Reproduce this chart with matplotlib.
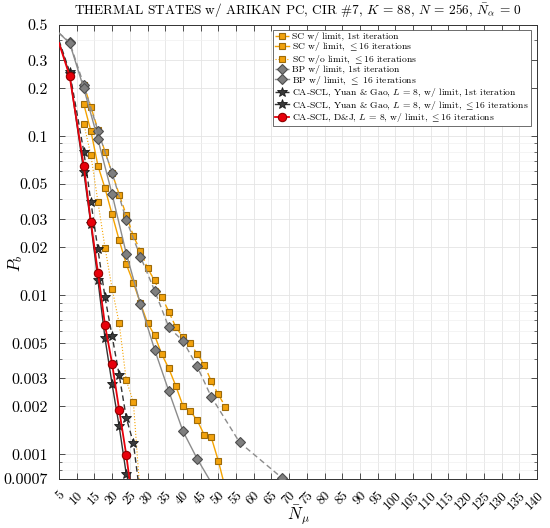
import matplotlib
matplotlib.use('Agg')
import matplotlib.pyplot as plt
import numpy as np
from matplotlib.ticker import FixedLocator, LogLocator, NullFormatter
from matplotlib.transforms import ScaledTranslation

plt.rcParams.update({
    'font.family': 'serif',
    'font.serif': ['cmr10'],
    'mathtext.fontset': 'cm',
    'axes.unicode_minus': False,
    'axes.formatter.use_mathtext': True,
})

# ---------------- data ----------------
sc1_x = [12, 14, 16, 18, 20, 22, 24, 26, 28, 30, 32, 34, 36, 38, 40, 42, 44, 46, 48, 50, 52]
sc1_y = [0.21, 0.153, 0.110, 0.0798, 0.0586, 0.043, 0.0319, 0.0236, 0.019, 0.0148, 0.0124,
         0.0098, 0.0079, 0.0063, 0.00548, 0.00498, 0.0043, 0.00367, 0.00288, 0.00238, 0.00199]

sc16_x = [12, 14, 16, 18, 20, 22, 24, 26, 28, 30, 32, 34, 36, 38, 40, 42, 44, 46, 48, 50, 51.3]
sc16_y = [0.159, 0.108, 0.0652, 0.047, 0.0322, 0.0222, 0.0157, 0.012, 0.0089, 0.0067, 0.0056,
          0.00427, 0.00347, 0.00269, 0.00202, 0.00188, 0.00164, 0.00133, 0.00128, 0.00091, 0.0007]

scno_x = [12, 14, 16, 18, 20, 22, 24, 26, 27.6]
scno_y = [0.12, 0.076, 0.0386, 0.0199, 0.011, 0.00665, 0.00292, 0.00214, 0.0007]

bp1_x = [5, 8, 12, 16, 20, 24, 28, 32, 36, 40, 44, 48, 56, 68]
bp1_y = [0.445, 0.39, 0.21, 0.108, 0.0589, 0.0297, 0.0175, 0.0107, 0.0063, 0.00516, 0.00358,
         0.0023, 0.00119, 0.00071]

bp16_x = [5, 8, 12, 16, 20, 24, 28, 32, 36, 40, 44, 47.4]
bp16_y = [0.445, 0.385, 0.20, 0.0955, 0.0432, 0.0183, 0.0088, 0.00456, 0.0025, 0.0014, 0.00094, 0.0007]

ya1_x = [5, 8, 12, 14, 16, 18, 20, 22, 24, 26, 27.3]
ya1_y = [0.40, 0.254, 0.080, 0.0387, 0.0194, 0.0097, 0.00553, 0.00315, 0.0017, 0.00118, 0.0007]

ya16_x = [5, 8, 12, 14, 16, 18, 20, 22, 24, 24.4]
ya16_y = [0.39, 0.245, 0.0597, 0.0279, 0.0124, 0.00536, 0.00276, 0.0015, 0.00075, 0.0007]

dj_x = [5, 8, 12, 14, 16, 18, 20, 22, 24, 24.9]
dj_y = [0.385, 0.239, 0.0649, 0.029, 0.0139, 0.00648, 0.00372, 0.0019, 0.00099, 0.0007]

labels = [
    'SC w/ limit, 1st iteration',
    r'SC w/ limit, $\leq$16 iterations',
    r'SC w/o limit, $\leq$16 iterations',
    'BP w/ limit, 1st iteration',
    r'BP w/ limit, $\leq$ 16 iterations',
    r'CA-SCL, Yuan & Gao, $L$ = 8, w/ limit, 1st iteration',
    r'CA-SCL, Yuan & Gao, $L$ = 8, w/ limit, $\leq$16 iterations',
    r'CA-SCL, D&J, $L$ = 8, w/ limit, $\leq$16 iterations',
]

xticks = list(range(5, 141, 5))
yticks = [0.0007, 0.001, 0.002, 0.003, 0.005, 0.01, 0.02, 0.03, 0.05, 0.1, 0.2, 0.3, 0.5]
ytick_labels = ['0.0007', '0.001', '0.002', '0.003', '0.005', '0.01', '0.02', '0.03', '0.05',
                '0.1', '0.2', '0.3', '0.5']

# ---------------- styles ----------------
orange_line = '#F5A300'
orange_face = '#F2A20C'
orange_edge = '#9C6A0A'
gray_line = '#8C8C8C'
gray_face = '#7F7F7F'
gray_edge = '#4D4D4D'
dark_line = '#333333'
dark_face = '#3A3A3A'
red_line = '#E8000B'
red_face = '#E8000B'
red_edge = '#8E0000'

fig = plt.figure(figsize=(5.5, 5.28), dpi=100)
ax = fig.add_axes([59 / 550, 1 - 479 / 528, (537 - 59) / 550, (479 - 25) / 528])


def inner(n, start, end):
    return list(range(start, n - end))


ax.plot(sc1_x, sc1_y, ls=(0, (4, 2.5)), color=orange_line, lw=1.0, marker='s', ms=5,
        mfc=orange_face, mec=orange_edge, mew=0.8, label=labels[0], zorder=3)
ax.plot(sc16_x, sc16_y, ls='-', color=orange_line, lw=1.0, marker='s', ms=5,
        mfc=orange_face, mec=orange_edge, mew=0.8, label=labels[1],
        markevery=inner(len(sc16_x), 0, 1), zorder=3)
ax.plot(scno_x, scno_y, ls=':', color=orange_line, lw=0.8, marker='s', ms=5,
        mfc=orange_face, mec=orange_edge, mew=0.8, label=labels[2],
        markevery=inner(len(scno_x), 0, 1), zorder=3)
ax.plot(bp1_x, bp1_y, ls=(0, (4, 2.5)), color=gray_line, lw=1.0, marker='D', ms=5,
        mfc=gray_face, mec=gray_edge, mew=0.8, label=labels[3],
        markevery=inner(len(bp1_x), 1, 0), zorder=4)
ax.plot(bp16_x, bp16_y, ls='-', color=gray_line, lw=1.0, marker='D', ms=5,
        mfc=gray_face, mec=gray_edge, mew=0.8, label=labels[4],
        markevery=inner(len(bp16_x), 1, 1), zorder=4)
ax.plot(ya1_x, ya1_y, ls=(0, (4, 2.5)), color=dark_line, lw=1.0, marker='*', ms=7.5,
        mfc=dark_face, mec='#1A1A1A', mew=0.6, label=labels[5],
        markevery=inner(len(ya1_x), 1, 1), zorder=5)
ax.plot(ya16_x, ya16_y, ls='-', color=dark_line, lw=1.0, marker='*', ms=7.5,
        mfc=dark_face, mec='#1A1A1A', mew=0.6, label=labels[6],
        markevery=inner(len(ya16_x), 1, 1), zorder=5)
ax.plot(dj_x, dj_y, ls='-', color=red_line, lw=1.3, marker='o', ms=6,
        mfc=red_face, mec=red_edge, mew=0.8, label=labels[7],
        markevery=inner(len(dj_x), 1, 1), zorder=6)

ax.set_yscale('log')
ax.set_xlim(5, 140)
ax.set_ylim(0.0007, 0.5)

ax.set_xticks(xticks)
ax.set_xticklabels([str(t) for t in xticks], rotation=45, ha='right', va='top',
                   rotation_mode='anchor', fontsize=9.5)
shift = ScaledTranslation(7 / 100, 0, fig.dpi_scale_trans)
for lab in ax.get_xticklabels():
    lab.set_transform(lab.get_transform() + shift)
ax.xaxis.set_minor_locator(FixedLocator([]))
ax.yaxis.set_major_locator(FixedLocator(yticks))
ax.set_yticklabels(ytick_labels, fontsize=11.5)
ax.yaxis.set_minor_locator(LogLocator(base=10, subs=np.arange(2, 10)))
ax.yaxis.set_minor_formatter(NullFormatter())

ax.tick_params(which='both', direction='in', top=True, right=True, color='#333333')
ax.tick_params(which='major', length=4, width=0.6)
ax.tick_params(which='minor', length=2, width=0.5)
ax.tick_params(axis='x', which='major', pad=7.5)
ax.tick_params(axis='y', which='major', pad=8)

ax.grid(which='major', color='#E4E4E4', lw=0.6, zorder=0)
ax.grid(which='minor', axis='y', color='#F0F0F0', lw=0.5, zorder=0)
ax.set_axisbelow(True)
for s in ax.spines.values():
    s.set_color('#333333')
    s.set_linewidth(0.7)

ax.set_title(r'THERMAL STATES w/ ARIKAN PC, CIR #7, $K$ = 88, $N$ = 256, $\bar{N}_{\alpha}$ = 0',
             fontsize=9.6, pad=7)
ax.set_ylabel(r'$P_b$', fontsize=12)
ax.yaxis.set_label_coords((16 - 59) / 478, (479 - 263) / 454)
ax.yaxis.label.set_va('center')
ax.set_xlabel(r'$\bar{N}_{\mu}$', fontsize=12)
ax.xaxis.set_label_coords(0.5, (479 - 515) / 454)
ax.xaxis.label.set_va('center')

leg = ax.legend(loc='upper right', bbox_to_anchor=(0.993, 0.995), fontsize=6.9, frameon=True,
                fancybox=False, edgecolor='#555555', framealpha=1, handlelength=1.5,
                handletextpad=0.3, labelspacing=-0.06, borderpad=0.2, borderaxespad=0.3)
leg.get_frame().set_linewidth(0.6)

fig.savefig('out.png', dpi=100)
